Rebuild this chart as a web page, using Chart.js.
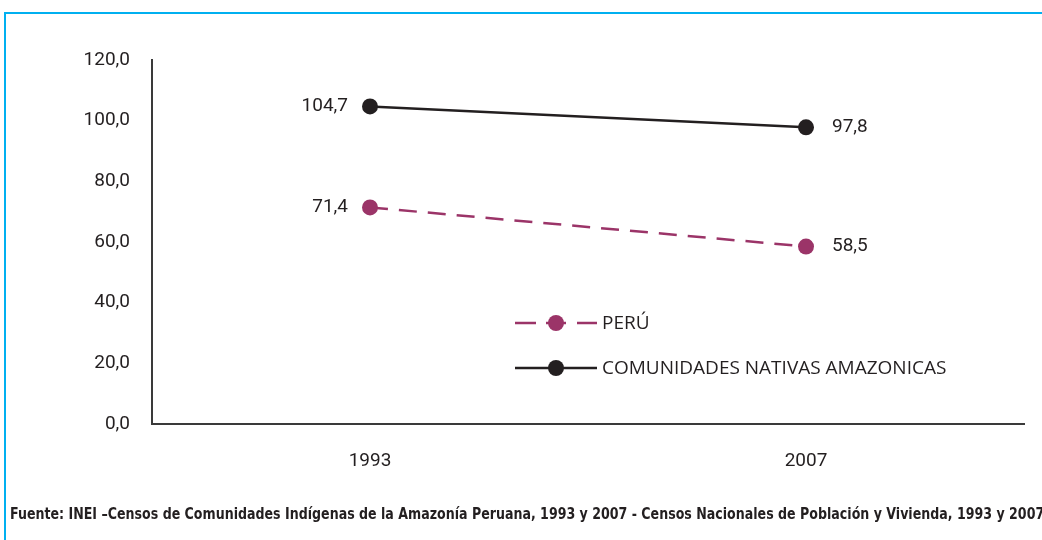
<!DOCTYPE html>
<html>
<head>
<meta charset="utf-8">
<script src="https://cdn.jsdelivr.net/npm/chart.js@4.4.1/dist/chart.umd.min.js"></script>
<style>
  html, body { margin: 0; padding: 0; background: #fff; }
  #wrap { position: relative; width: 1042px; height: 540px; overflow: hidden; }
  #frame {
    position: absolute; left: 4px; top: 12px; right: -4px; bottom: -4px;
    border-top: 2px solid #00b0f0; border-left: 2px solid #00b0f0;
  }
  #myChart { position: absolute; left: 0; top: 0; }
  #fuente {
    position: absolute; left: 10px; top: 505px; white-space: nowrap;
    font-family: "DejaVu Sans Condensed", sans-serif;
    font-weight: bold; font-size: 15px; color: #231f20;
    transform: scaleX(0.935); transform-origin: left center;
  }
</style>
</head>
<body>
<div id="wrap">
  <div id="frame"></div>
  <canvas id="myChart" width="1042" height="540"></canvas>
  <div id="fuente">Fuente: INEI –Censos de Comunidades Indígenas de la Amazonía Peruana, 1993 y 2007 - Censos Nacionales de Población y Vivienda, 1993 y 2007</div>
</div>
<script>
// 年（x軸）
const years = ['1993', '2007'];
// 系列の値
const peruValues = [71.4, 58.5];
const comunidadesValues = [104.7, 97.8];
// 系列名
const seriesLabels = ['PERÚ', 'COMUNIDADES NATIVAS AMAZONICAS'];
// 目盛り
const yTicks = [0, 20, 40, 60, 80, 100, 120];

const numFont = 'Roboto, "Liberation Sans", sans-serif';
const legendFont = '"Open Sans", "Noto Sans", sans-serif';
const colorPeru = '#9b3468';
const colorCom = '#231f20';

function fmt(v) {
    return v.toFixed(1).replace('.', ',');
}

// 値ラベル（1993は左、2007は右）
const valueLabels = {
    id: 'valueLabels',
    afterDatasetsDraw(chart) {
        const ctx = chart.ctx;
        ctx.save();
        ctx.font = '19px ' + numFont;
        ctx.fillStyle = '#231f20';
        ctx.textBaseline = 'middle';
        chart.data.datasets.forEach((ds, i) => {
            const meta = chart.getDatasetMeta(i);
            meta.data.forEach((pt, j) => {
                if (j == 0) {
                    ctx.textAlign = 'right';
                    ctx.fillText(fmt(ds.data[j]), pt.x - 22, pt.y);
                } else {
                    ctx.textAlign = 'left';
                    ctx.fillText(fmt(ds.data[j]), pt.x + 26, pt.y);
                }
            });
        });
        ctx.restore();
    }
};

// 凡例（プロット内に描画）
const innerLegend = {
    id: 'innerLegend',
    afterDraw(chart) {
        const ctx = chart.ctx;
        const x0 = 515, sampleW = 82;
        const rows = [323, 368];
        ctx.save();
        chart.data.datasets.forEach((ds, i) => {
            const y = rows[i];
            ctx.strokeStyle = ds.borderColor;
            ctx.lineWidth = ds.borderWidth;
            ctx.beginPath();
            if (ds.borderDash) {
                ctx.moveTo(x0, y);
                ctx.lineTo(x0 + 21, y);
                ctx.moveTo(x0 + 31, y);
                ctx.lineTo(x0 + 51, y);
                ctx.moveTo(x0 + 62, y);
                ctx.lineTo(x0 + sampleW, y);
            } else {
                ctx.moveTo(x0, y);
                ctx.lineTo(x0 + sampleW, y);
            }
            ctx.stroke();
            ctx.fillStyle = ds.pointBackgroundColor;
            ctx.beginPath();
            ctx.arc(x0 + 41, y, ds.pointRadius, 0, Math.PI * 2);
            ctx.fill();
            ctx.font = '19px ' + legendFont;
            ctx.fillStyle = '#231f20';
            ctx.textAlign = 'left';
            ctx.textBaseline = 'middle';
            ctx.fillText(ds.label, x0 + 87, y + 1);
        });
        ctx.restore();
    }
};

const ctx = document.getElementById('myChart').getContext('2d');
const myChart = new Chart(ctx, {
    type: 'line',
    data: {
        labels: years,
        datasets: [{
            label: seriesLabels[0],
            data: peruValues,
            borderColor: colorPeru,
            backgroundColor: colorPeru,
            pointBackgroundColor: colorPeru,
            pointBorderWidth: 0,
            pointRadius: 8,
            borderWidth: 2.5,
            borderDash: [18, 11]
        },
        {
            label: seriesLabels[1],
            data: comunidadesValues,
            borderColor: colorCom,
            backgroundColor: colorCom,
            pointBackgroundColor: colorCom,
            pointBorderWidth: 0,
            pointRadius: 8,
            borderWidth: 2.5
        }]
    },
    options: {
        responsive: false,
        animation: false,
        layout: { padding: { left: 0, top: 60, right: 18, bottom: 30 } },
        plugins: {
            legend: { display: false },
            tooltip: { enabled: false }
        },
        scales: {
            x: {
                offset: true,
                grid: { display: false, drawTicks: false },
                border: { display: true, color: '#3a3a3a', width: 2 },
                ticks: { color: '#231f20', font: { family: numFont, size: 19 }, padding: 26 },
                afterFit(scale) { scale.height = 86; }
            },
            y: {
                min: 0,
                max: 120,
                afterBuildTicks(scale) { scale.ticks = yTicks.map(v => ({ value: v })); },
                grid: { display: false, drawTicks: false },
                border: { display: true, color: '#3a3a3a', width: 2 },
                ticks: {
                    color: '#231f20',
                    font: { family: numFont, size: 19 },
                    padding: 22,
                    callback: v => fmt(v)
                },
                afterFit(scale) { scale.width = 152; }
            }
        }
    },
    plugins: [valueLabels, innerLegend]
});
</script>
</body>
</html>
